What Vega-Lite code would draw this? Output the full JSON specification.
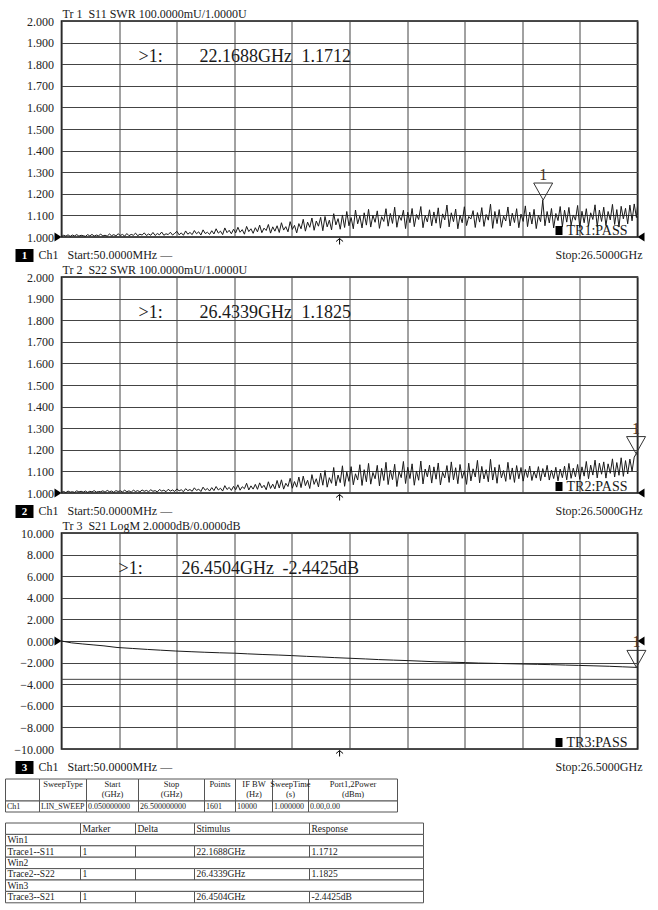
{
"$schema": "https://vega.github.io/schema/vega-lite/v6.json",
"padding": {"left": 4.5, "top": 7, "right": 5, "bottom": 5},
"background": "#ffffff",
"bounds": "flush",
"spacing": 40,
"config": {
  "font": "Liberation Serif",
  "view": {"stroke": "#111111", "strokeWidth": 1.6},
  "axis": {"gridColor": "#444444", "gridOpacity": 1, "gridWidth": 1, "labelFont": "Liberation Serif", "labelFontSize": 12, "labelColor": "#222222", "tickSize": 0, "labelOverlap": false},
  "text": {"color": "#1a1a1a"}
},
"datasets": {
  "panels": [
    {"panel": 1, "title": "Tr 1\u00a0\u00a0S11 SWR 100.0000mU/1.0000U", "badge": "1", "ch": "Ch1", "start": "Start:50.0000MHz —", "stop": "Stop:26.5000GHz", "pass": "TR1:PASS"},
    {"panel": 2, "title": "Tr 2\u00a0\u00a0S22 SWR 100.0000mU/1.0000U", "badge": "2", "ch": "Ch1", "start": "Start:50.0000MHz —", "stop": "Stop:26.5000GHz", "pass": "TR2:PASS"},
    {"panel": 3, "title": "Tr 3\u00a0\u00a0S21 LogM 2.0000dB/0.0000dB", "badge": "3", "ch": "Ch1", "start": "Start:50.0000MHz —", "stop": "Stop:26.5000GHz", "pass": "TR3:PASS"}
  ],
  "markers": [
    {"panel": 1, "id": "1", "f": 22.1688, "v": 1.1712, "mk": ">1:", "freq": "22.1688GHz", "resp": "1.1712"},
    {"panel": 2, "id": "1", "f": 26.4339, "v": 1.1825, "mk": ">1:", "freq": "26.4339GHz", "resp": "1.1825"},
    {"panel": 3, "id": "1", "f": 26.4504, "v": -2.4425, "mk": ">1:", "freq": "26.4504GHz", "resp": "-2.4425dB"}
  ],
  "swr": [
{"f":0.05,"s11":1.002,"s22":1.003},{"f":0.15,"s11":1.008,"s22":1.007},{"f":0.25,"s11":1.004,"s22":1.002},{"f":0.35,"s11":1.010,"s22":1.009},{"f":0.45,"s11":1.003,"s22":1.004},{"f":0.55,"s11":1.009,"s22":1.006},{"f":0.65,"s11":1.005,"s22":1.003},{"f":0.75,"s11":1.011,"s22":1.010},{"f":0.85,"s11":1.004,"s22":1.005},{"f":0.95,"s11":1.008,"s22":1.008},
{"f":1.05,"s11":1.006,"s22":1.004},{"f":1.15,"s11":1.003,"s22":1.009},{"f":1.25,"s11":1.011,"s22":1.003},{"f":1.35,"s11":1.005,"s22":1.008},{"f":1.45,"s11":1.012,"s22":1.005},{"f":1.55,"s11":1.004,"s22":1.011},{"f":1.65,"s11":1.009,"s22":1.004},{"f":1.75,"s11":1.006,"s22":1.007},{"f":1.85,"s11":1.013,"s22":1.006},{"f":1.95,"s11":1.005,"s22":1.010},
{"f":2.05,"s11":1.008,"s22":1.004},{"f":2.15,"s11":1.004,"s22":1.012},{"f":2.25,"s11":1.014,"s22":1.006},{"f":2.35,"s11":1.006,"s22":1.009},{"f":2.45,"s11":1.011,"s22":1.003},{"f":2.55,"s11":1.005,"s22":1.011},{"f":2.65,"s11":1.015,"s22":1.007},{"f":2.75,"s11":1.007,"s22":1.010},{"f":2.85,"s11":1.012,"s22":1.005},{"f":2.95,"s11":1.004,"s22":1.013},
{"f":3.05,"s11":1.016,"s22":1.006},{"f":3.15,"s11":1.006,"s22":1.010},{"f":3.25,"s11":1.012,"s22":1.004},{"f":3.35,"s11":1.008,"s22":1.013},{"f":3.45,"s11":1.018,"s22":1.007},{"f":3.55,"s11":1.006,"s22":1.011},{"f":3.65,"s11":1.013,"s22":1.005},{"f":3.75,"s11":1.009,"s22":1.014},{"f":3.85,"s11":1.019,"s22":1.008},{"f":3.95,"s11":1.007,"s22":1.012},
{"f":4.05,"s11":1.014,"s22":1.006},{"f":4.15,"s11":1.008,"s22":1.015},{"f":4.25,"s11":1.021,"s22":1.008},{"f":4.35,"s11":1.007,"s22":1.011},{"f":4.45,"s11":1.016,"s22":1.005},{"f":4.55,"s11":1.010,"s22":1.016},{"f":4.65,"s11":1.023,"s22":1.009},{"f":4.75,"s11":1.008,"s22":1.013},{"f":4.85,"s11":1.015,"s22":1.006},{"f":4.95,"s11":1.011,"s22":1.017},
{"f":5.05,"s11":1.022,"s22":1.009},{"f":5.15,"s11":1.009,"s22":1.014},{"f":5.25,"s11":1.017,"s22":1.007},{"f":5.35,"s11":1.026,"s22":1.019},{"f":5.45,"s11":1.010,"s22":1.010},{"f":5.55,"s11":1.019,"s22":1.015},{"f":5.65,"s11":1.008,"s22":1.006},{"f":5.75,"s11":1.028,"s22":1.020},{"f":5.85,"s11":1.013,"s22":1.011},{"f":5.95,"s11":1.021,"s22":1.016},
{"f":6.05,"s11":1.011,"s22":1.008},{"f":6.15,"s11":1.030,"s22":1.024},{"f":6.25,"s11":1.015,"s22":1.012},{"f":6.35,"s11":1.024,"s22":1.018},{"f":6.45,"s11":1.009,"s22":1.007},{"f":6.55,"s11":1.033,"s22":1.027},{"f":6.65,"s11":1.016,"s22":1.013},{"f":6.75,"s11":1.022,"s22":1.021},{"f":6.85,"s11":1.012,"s22":1.009},{"f":6.95,"s11":1.029,"s22":1.025},
{"f":7.05,"s11":1.014,"s22":1.011},{"f":7.15,"s11":1.038,"s22":1.030},{"f":7.25,"s11":1.018,"s22":1.014},{"f":7.35,"s11":1.027,"s22":1.022},{"f":7.45,"s11":1.011,"s22":1.009},{"f":7.55,"s11":1.042,"s22":1.034},{"f":7.65,"s11":1.020,"s22":1.016},{"f":7.75,"s11":1.031,"s22":1.026},{"f":7.85,"s11":1.015,"s22":1.012},{"f":7.95,"s11":1.036,"s22":1.031},
{"f":8.05,"s11":1.019,"s22":1.015},{"f":8.15,"s11":1.045,"s22":1.038},{"f":8.25,"s11":1.022,"s22":1.013},{"f":8.35,"s11":1.034,"s22":1.029},{"f":8.45,"s11":1.013,"s22":1.020},{"f":8.55,"s11":1.049,"s22":1.045},{"f":8.65,"s11":1.025,"s22":1.014},{"f":8.75,"s11":1.038,"s22":1.033},{"f":8.85,"s11":1.017,"s22":1.018},{"f":8.95,"s11":1.043,"s22":1.040},
{"f":9.05,"s11":1.024,"s22":1.017},{"f":9.15,"s11":1.055,"s22":1.047},{"f":9.25,"s11":1.020,"s22":1.024},{"f":9.35,"s11":1.041,"s22":1.036},{"f":9.45,"s11":1.030,"s22":1.015},{"f":9.55,"s11":1.058,"s22":1.052},{"f":9.65,"s11":1.018,"s22":1.021},{"f":9.75,"s11":1.047,"s22":1.041},{"f":9.85,"s11":1.027,"s22":1.019},{"f":9.95,"s11":1.052,"s22":1.058},
{"f":10.05,"s11":1.021,"s22":1.023},{"f":10.15,"s11":1.066,"s22":1.061},{"f":10.25,"s11":1.032,"s22":1.018},{"f":10.35,"s11":1.048,"s22":1.045},{"f":10.45,"s11":1.024,"s22":1.030},{"f":10.55,"s11":1.071,"s22":1.068},{"f":10.65,"s11":1.035,"s22":1.022},{"f":10.75,"s11":1.054,"s22":1.053},{"f":10.85,"s11":1.019,"s22":1.027},{"f":10.95,"s11":1.062,"s22":1.074},
{"f":11.05,"s11":1.038,"s22":1.025},{"f":11.15,"s11":1.082,"s22":1.078},{"f":11.25,"s11":1.027,"s22":1.034},{"f":11.35,"s11":1.069,"s22":1.059},{"f":11.45,"s11":1.045,"s22":1.021},{"f":11.55,"s11":1.088,"s22":1.085},{"f":11.65,"s11":1.031,"s22":1.040},{"f":11.75,"s11":1.074,"s22":1.066},{"f":11.85,"s11":1.050,"s22":1.028},{"f":11.95,"s11":1.091,"s22":1.092},
{"f":12.05,"s11":1.029,"s22":1.036},{"f":12.15,"s11":1.095,"s22":1.104},{"f":12.25,"s11":1.047,"s22":1.027},{"f":12.35,"s11":1.078,"s22":1.071},{"f":12.45,"s11":1.033,"s22":1.045},{"f":12.55,"s11":1.108,"s22":1.118},{"f":12.65,"s11":1.056,"s22":1.033},{"f":12.75,"s11":1.085,"s22":1.083},{"f":12.85,"s11":1.036,"s22":1.048},{"f":12.95,"s11":1.102,"s22":1.126},
{"f":13.05,"s11":1.044,"s22":1.031},{"f":13.15,"s11":1.118,"s22":1.097},{"f":13.25,"s11":1.052,"s22":1.054},{"f":13.35,"s11":1.090,"s22":1.122},{"f":13.45,"s11":1.038,"s22":1.038},{"f":13.55,"s11":1.125,"s22":1.089},{"f":13.65,"s11":1.061,"s22":1.060},{"f":13.75,"s11":1.097,"s22":1.131},{"f":13.85,"s11":1.042,"s22":1.035},{"f":13.95,"s11":1.112,"s22":1.108},
{"f":14.05,"s11":1.055,"s22":1.052},{"f":14.15,"s11":1.128,"s22":1.137},{"f":14.25,"s11":1.046,"s22":1.041},{"f":14.35,"s11":1.101,"s22":1.095},{"f":14.45,"s11":1.068,"s22":1.066},{"f":14.55,"s11":1.121,"s22":1.128},{"f":14.65,"s11":1.040,"s22":1.033},{"f":14.75,"s11":1.094,"s22":1.114},{"f":14.85,"s11":1.072,"s22":1.058},{"f":14.95,"s11":1.131,"s22":1.142},
{"f":15.05,"s11":1.050,"s22":1.039},{"f":15.15,"s11":1.109,"s22":1.106},{"f":15.25,"s11":1.063,"s22":1.062},{"f":15.35,"s11":1.138,"s22":1.133},{"f":15.45,"s11":1.045,"s22":1.030},{"f":15.55,"s11":1.098,"s22":1.099},{"f":15.65,"s11":1.077,"s22":1.071},{"f":15.75,"s11":1.124,"s22":1.146},{"f":15.85,"s11":1.039,"s22":1.044},{"f":15.95,"s11":1.115,"s22":1.119},
{"f":16.05,"s11":1.066,"s22":1.067},{"f":16.15,"s11":1.132,"s22":1.135},{"f":16.25,"s11":1.048,"s22":1.036},{"f":16.35,"s11":1.104,"s22":1.102},{"f":16.45,"s11":1.081,"s22":1.059},{"f":16.55,"s11":1.141,"s22":1.148},{"f":16.65,"s11":1.043,"s22":1.042},{"f":16.75,"s11":1.099,"s22":1.111},{"f":16.85,"s11":1.070,"s22":1.075},{"f":16.95,"s11":1.126,"s22":1.129},
{"f":17.05,"s11":1.052,"s22":1.046},{"f":17.15,"s11":1.116,"s22":1.121},{"f":17.25,"s11":1.064,"s22":1.064},{"f":17.35,"s11":1.135,"s22":1.139},{"f":17.45,"s11":1.041,"s22":1.037},{"f":17.55,"s11":1.107,"s22":1.096},{"f":17.65,"s11":1.079,"s22":1.070},{"f":17.75,"s11":1.148,"s22":1.127},{"f":17.85,"s11":1.047,"s22":1.049},{"f":17.95,"s11":1.112,"s22":1.144},
{"f":18.05,"s11":1.071,"s22":1.061},{"f":18.15,"s11":1.129,"s22":1.117},{"f":18.25,"s11":1.038,"s22":1.043},{"f":18.35,"s11":1.101,"s22":1.132},{"f":18.45,"s11":1.066,"s22":1.068},{"f":18.55,"s11":1.140,"s22":1.103},{"f":18.65,"s11":1.053,"s22":1.040},{"f":18.75,"s11":1.095,"s22":1.138},{"f":18.85,"s11":1.083,"s22":1.056},{"f":18.95,"s11":1.122,"s22":1.112},
{"f":19.05,"s11":1.044,"s22":1.074},{"f":19.15,"s11":1.113,"s22":1.151},{"f":19.25,"s11":1.069,"s22":1.047},{"f":19.35,"s11":1.136,"s22":1.123},{"f":19.45,"s11":1.049,"s22":1.065},{"f":19.55,"s11":1.104,"s22":1.108},{"f":19.65,"s11":1.078,"s22":1.052},{"f":19.75,"s11":1.152,"s22":1.156},{"f":19.85,"s11":1.040,"s22":1.060},{"f":19.95,"s11":1.118,"s22":1.119},
{"f":20.05,"s11":1.062,"s22":1.045},{"f":20.15,"s11":1.127,"s22":1.131},{"f":20.25,"s11":1.045,"s22":1.070},{"f":20.35,"s11":1.097,"s22":1.104},{"f":20.45,"s11":1.074,"s22":1.054},{"f":20.55,"s11":1.139,"s22":1.142},{"f":20.65,"s11":1.051,"s22":1.063},{"f":20.75,"s11":1.110,"s22":1.116},{"f":20.85,"s11":1.067,"s22":1.049},{"f":20.95,"s11":1.131,"s22":1.127},
{"f":21.05,"s11":1.043,"s22":1.066},{"f":21.15,"s11":1.106,"s22":1.118},{"f":21.25,"s11":1.072,"s22":1.055},{"f":21.35,"s11":1.144,"s22":1.109},{"f":21.45,"s11":1.048,"s22":1.072},{"f":21.55,"s11":1.115,"s22":1.125},{"f":21.65,"s11":1.060,"s22":1.058},{"f":21.75,"s11":1.128,"s22":1.101},{"f":21.85,"s11":1.039,"s22":1.069},{"f":21.95,"s11":1.101,"s22":1.122},
{"f":22.05,"s11":1.071,"s22":1.057},{"f":22.15,"s11":1.171,"s22":1.113},{"f":22.25,"s11":1.052,"s22":1.074},{"f":22.35,"s11":1.118,"s22":1.128},{"f":22.45,"s11":1.065,"s22":1.060},{"f":22.55,"s11":1.132,"s22":1.106},{"f":22.65,"s11":1.042,"s22":1.067},{"f":22.75,"s11":1.109,"s22":1.119},{"f":22.85,"s11":1.076,"s22":1.056},{"f":22.95,"s11":1.141,"s22":1.111},
{"f":23.05,"s11":1.048,"s22":1.071},{"f":23.15,"s11":1.124,"s22":1.124},{"f":23.25,"s11":1.069,"s22":1.061},{"f":23.35,"s11":1.137,"s22":1.137},{"f":23.45,"s11":1.055,"s22":1.068},{"f":23.55,"s11":1.102,"s22":1.115},{"f":23.65,"s11":1.078,"s22":1.075},{"f":23.75,"s11":1.146,"s22":1.132},{"f":23.85,"s11":1.044,"s22":1.063},{"f":23.95,"s11":1.119,"s22":1.121},
{"f":24.05,"s11":1.066,"s22":1.078},{"f":24.15,"s11":1.131,"s22":1.146},{"f":24.25,"s11":1.050,"s22":1.066},{"f":24.35,"s11":1.112,"s22":1.129},{"f":24.45,"s11":1.081,"s22":1.083},{"f":24.55,"s11":1.149,"s22":1.152},{"f":24.65,"s11":1.047,"s22":1.070},{"f":24.75,"s11":1.125,"s22":1.138},{"f":24.85,"s11":1.072,"s22":1.087},{"f":24.95,"s11":1.138,"s22":1.144},
{"f":25.05,"s11":1.053,"s22":1.069},{"f":25.15,"s11":1.118,"s22":1.135},{"f":25.25,"s11":1.079,"s22":1.091},{"f":25.35,"s11":1.151,"s22":1.158},{"f":25.45,"s11":1.058,"s22":1.074},{"f":25.55,"s11":1.127,"s22":1.141},{"f":25.65,"s11":1.046,"s22":1.082},{"f":25.75,"s11":1.142,"s22":1.163},{"f":25.85,"s11":1.084,"s22":1.077},{"f":25.95,"s11":1.133,"s22":1.150},
{"f":26.05,"s11":1.061,"s22":1.088},{"f":26.15,"s11":1.148,"s22":1.157},{"f":26.25,"s11":1.075,"s22":1.101},{"f":26.35,"s11":1.153,"s22":1.166},{"f":26.45,"s11":1.090,"s22":1.183},{"f":26.5,"s11":1.142,"s22":1.176}
  ],
  "s21": [
{"f":0.05,"v":0},{"f":0.5,"v":-0.17},{"f":1,"v":-0.27},{"f":1.5,"v":-0.36},{"f":2,"v":-0.45},{"f":2.6,"v":-0.6},{"f":3.3,"v":-0.69},{"f":4,"v":-0.78},{"f":4.6,"v":-0.85},{"f":5.3,"v":-0.93},{"f":6,"v":-0.99},{"f":6.6,"v":-1.04},{"f":7.3,"v":-1.09},{"f":8,"v":-1.13},{"f":8.6,"v":-1.19},{"f":9.3,"v":-1.25},{"f":10,"v":-1.3},{"f":10.6,"v":-1.35},{"f":11.3,"v":-1.42},{"f":12,"v":-1.48},{"f":12.6,"v":-1.54},{"f":13.3,"v":-1.6},{"f":14,"v":-1.66},{"f":14.6,"v":-1.72},{"f":15.3,"v":-1.77},{"f":16,"v":-1.82},{"f":16.6,"v":-1.87},{"f":17.2,"v":-1.92},{"f":17.9,"v":-1.96},{"f":18.6,"v":-2.0},{"f":19.2,"v":-2.04},{"f":19.9,"v":-2.07},{"f":20.5,"v":-2.1},{"f":21.2,"v":-2.13},{"f":21.9,"v":-2.16},{"f":22.5,"v":-2.19},{"f":23.2,"v":-2.23},{"f":23.8,"v":-2.26},{"f":24.5,"v":-2.3},{"f":25.2,"v":-2.34},{"f":25.8,"v":-2.39},{"f":26.4504,"v":-2.4425},{"f":26.5,"v":-2.45}
  ],
  "table1": [
{"c0":0,"c1":1,"r0":0,"r1":1,"text":""},{"c0":1,"c1":2,"r0":0,"r1":1,"text":"SweepType"},{"c0":2,"c1":3,"r0":0,"r1":1,"text":"Start\n(GHz)"},{"c0":3,"c1":4,"r0":0,"r1":1,"text":"Stop\n(GHz)"},{"c0":4,"c1":5,"r0":0,"r1":1,"text":"Points"},{"c0":5,"c1":6,"r0":0,"r1":1,"text":"IF BW\n(Hz)"},{"c0":6,"c1":7,"r0":0,"r1":1,"text":"SweepTime\n(s)"},{"c0":7,"c1":8,"r0":0,"r1":1,"text":"Port1,2Power\n(dBm)"},
{"c0":0,"c1":1,"r0":1,"r1":2,"text":"Ch1"},{"c0":1,"c1":2,"r0":1,"r1":2,"text":"LIN_SWEEP"},{"c0":2,"c1":3,"r0":1,"r1":2,"text":"0.050000000"},{"c0":3,"c1":4,"r0":1,"r1":2,"text":"26.500000000"},{"c0":4,"c1":5,"r0":1,"r1":2,"text":"1601"},{"c0":5,"c1":6,"r0":1,"r1":2,"text":"10000"},{"c0":6,"c1":7,"r0":1,"r1":2,"text":"1.000000"},{"c0":7,"c1":8,"r0":1,"r1":2,"text":"0.00,0.00"}
  ],
  "table2": [
{"c0":0,"c1":1,"r0":3,"r1":4,"text":""},{"c0":1,"c1":2,"r0":3,"r1":4,"text":"Marker"},{"c0":2,"c1":3,"r0":3,"r1":4,"text":"Delta"},{"c0":3,"c1":4,"r0":3,"r1":4,"text":"Stimulus"},{"c0":4,"c1":5,"r0":3,"r1":4,"text":"Response"},
{"c0":0,"c1":5,"r0":4,"r1":5,"text":"Win1"},
{"c0":0,"c1":1,"r0":5,"r1":6,"text":"Trace1--S11"},{"c0":1,"c1":2,"r0":5,"r1":6,"text":"1"},{"c0":2,"c1":3,"r0":5,"r1":6,"text":""},{"c0":3,"c1":4,"r0":5,"r1":6,"text":"22.1688GHz"},{"c0":4,"c1":5,"r0":5,"r1":6,"text":"1.1712"},
{"c0":0,"c1":5,"r0":6,"r1":7,"text":"Win2"},
{"c0":0,"c1":1,"r0":7,"r1":8,"text":"Trace2--S22"},{"c0":1,"c1":2,"r0":7,"r1":8,"text":"1"},{"c0":2,"c1":3,"r0":7,"r1":8,"text":""},{"c0":3,"c1":4,"r0":7,"r1":8,"text":"26.4339GHz"},{"c0":4,"c1":5,"r0":7,"r1":8,"text":"1.1825"},
{"c0":0,"c1":5,"r0":8,"r1":9,"text":"Win3"},
{"c0":0,"c1":1,"r0":9,"r1":10,"text":"Trace3--S21"},{"c0":1,"c1":2,"r0":9,"r1":10,"text":"1"},{"c0":2,"c1":3,"r0":9,"r1":10,"text":""},{"c0":3,"c1":4,"r0":9,"r1":10,"text":"26.4504GHz"},{"c0":4,"c1":5,"r0":9,"r1":10,"text":"-2.4425dB"}
  ]
},
"vconcat": [
 {
  "width": 576, "height": 216,
  "layer": [
   {"data": {"name": "swr"},
    "mark": {"type": "line", "color": "#1a1a1a", "strokeWidth": 1, "clip": true},
    "encoding": {
     "x": {"field": "f", "type": "quantitative", "scale": {"domain": [0.05, 26.5], "nice": false, "zero": false}, "axis": {"values": [0.05, 2.695, 5.34, 7.985, 10.63, 13.275, 15.92, 18.565, 21.21, 23.855, 26.5], "labels": false, "ticks": false, "domain": false, "grid": true, "title": null}},
     "y": {"field": "s11", "type": "quantitative", "scale": {"domain": [1, 2], "nice": false, "zero": false}, "axis": {"values": [1, 1.1, 1.2, 1.3, 1.4, 1.5, 1.6, 1.7, 1.8, 1.9, 2], "format": ".3f", "ticks": false, "domain": false, "grid": true, "title": null, "labelPadding": 8, "labelOverlap": false, "labelBound": false, "tickCount": 11, "labelFont": "Liberation Serif"}}
    }},
   {"data": {"name": "panels"}, "transform": [{"filter": "datum.panel == 1"}],
    "layer": [
     {"mark": {"type": "text", "align": "left", "baseline": "alphabetic", "fontSize": 12, "dx": 1, "dy": -3}, "encoding": {"x": {"datum": 0.05, "type": "quantitative"}, "y": {"datum": 2, "type": "quantitative"}, "text": {"field": "title"}}},
     {"mark": {"type": "point", "shape": "M-4.6,1.2H-2.8V2.5H-4.6Z", "size": 400, "filled": true, "color": "#000000", "opacity": 1}, "encoding": {"x": {"datum": 0.05, "type": "quantitative"}, "y": {"datum": 1, "type": "quantitative"}}},
     {"mark": {"type": "text", "align": "center", "baseline": "middle", "fontSize": 11, "fontWeight": "bold", "color": "#ffffff", "dx": -37, "dy": 19}, "encoding": {"x": {"datum": 0.05, "type": "quantitative"}, "y": {"datum": 1, "type": "quantitative"}, "text": {"field": "badge"}}},
     {"mark": {"type": "text", "align": "left", "baseline": "alphabetic", "fontSize": 12, "dx": -23, "dy": 22}, "encoding": {"x": {"datum": 0.05, "type": "quantitative"}, "y": {"datum": 1, "type": "quantitative"}, "text": {"field": "ch"}}},
     {"mark": {"type": "text", "align": "left", "baseline": "alphabetic", "fontSize": 12, "dx": 6, "dy": 22}, "encoding": {"x": {"datum": 0.05, "type": "quantitative"}, "y": {"datum": 1, "type": "quantitative"}, "text": {"field": "start"}}},
     {"mark": {"type": "text", "align": "right", "baseline": "alphabetic", "fontSize": 12, "dx": 5, "dy": 22}, "encoding": {"x": {"datum": 26.5, "type": "quantitative"}, "y": {"datum": 1, "type": "quantitative"}, "text": {"field": "stop"}}},
     {"mark": {"type": "point", "shape": "M-8.2,-1.1H-7.5V-0.2H-8.2Z", "size": 400, "filled": true, "color": "#000000", "opacity": 1}, "encoding": {"x": {"datum": 26.5, "type": "quantitative"}, "y": {"datum": 1, "type": "quantitative"}}},
     {"mark": {"type": "text", "align": "left", "baseline": "alphabetic", "fontSize": 14, "dx": -71, "dy": -2}, "encoding": {"x": {"datum": 26.5, "type": "quantitative"}, "y": {"datum": 1, "type": "quantitative"}, "text": {"field": "pass"}}},
     {"mark": {"type": "point", "shape": "M0,0L-0.7,-0.45L-0.7,0.45Z", "size": 400, "filled": true, "color": "#000000", "opacity": 1}, "encoding": {"x": {"datum": 0.05, "type": "quantitative"}, "y": {"datum": 1, "type": "quantitative"}}},
     {"mark": {"type": "point", "shape": "M0,0L0.7,-0.45L0.7,0.45Z", "size": 400, "filled": true, "color": "#000000", "opacity": 1}, "encoding": {"x": {"datum": 26.5, "type": "quantitative"}, "y": {"datum": 1, "type": "quantitative"}}},
     {"mark": {"type": "point", "shape": "M-0.35,0.45L0,0.15L0.35,0.45M0,0.15V0.75", "size": 400, "filled": false, "color": "#000000", "opacity": 1, "strokeWidth": 1}, "encoding": {"x": {"datum": 12.82, "type": "quantitative"}, "y": {"datum": 1, "type": "quantitative"}}}
    ]},
   {"data": {"name": "markers"}, "transform": [{"filter": "datum.panel == 1"}],
    "layer": [
     {"mark": {"type": "text", "align": "left", "baseline": "alphabetic", "fontSize": 18, "dx": 77, "dy": 41}, "encoding": {"x": {"datum": 0.05, "type": "quantitative"}, "y": {"datum": 2, "type": "quantitative"}, "text": {"field": "mk"}}},
     {"mark": {"type": "text", "align": "left", "baseline": "alphabetic", "fontSize": 18, "dx": 138, "dy": 41}, "encoding": {"x": {"datum": 0.05, "type": "quantitative"}, "y": {"datum": 2, "type": "quantitative"}, "text": {"field": "freq"}}},
     {"mark": {"type": "text", "align": "left", "baseline": "alphabetic", "fontSize": 18, "dx": 240, "dy": 41}, "encoding": {"x": {"datum": 0.05, "type": "quantitative"}, "y": {"datum": 2, "type": "quantitative"}, "text": {"field": "resp"}}},
     {"mark": {"type": "point", "shape": "M-0.95,-1.7L0.95,-1.7L0,0Z", "size": 400, "filled": false, "color": "#333333", "opacity": 1, "strokeWidth": 1}, "encoding": {"x": {"field": "f", "type": "quantitative"}, "y": {"field": "v", "type": "quantitative"}}},
     {"mark": {"type": "text", "align": "center", "baseline": "alphabetic", "fontSize": 16, "dy": -20, "color": "#4a3222"}, "encoding": {"x": {"field": "f", "type": "quantitative"}, "y": {"field": "v", "type": "quantitative"}, "text": {"field": "id"}}}
    ]}
  ]
 },
 {
  "width": 576, "height": 216,
  "layer": [
   {"data": {"name": "swr"},
    "mark": {"type": "line", "color": "#1a1a1a", "strokeWidth": 1, "clip": true},
    "encoding": {
     "x": {"field": "f", "type": "quantitative", "scale": {"domain": [0.05, 26.5], "nice": false, "zero": false}, "axis": {"values": [0.05, 2.695, 5.34, 7.985, 10.63, 13.275, 15.92, 18.565, 21.21, 23.855, 26.5], "labels": false, "ticks": false, "domain": false, "grid": true, "title": null}},
     "y": {"field": "s22", "type": "quantitative", "scale": {"domain": [1, 2], "nice": false, "zero": false}, "axis": {"values": [1, 1.1, 1.2, 1.3, 1.4, 1.5, 1.6, 1.7, 1.8, 1.9, 2], "format": ".3f", "ticks": false, "domain": false, "grid": true, "title": null, "labelPadding": 8, "labelOverlap": false, "labelBound": false, "tickCount": 11, "labelFont": "Liberation Serif"}}
    }},
   {"data": {"name": "panels"}, "transform": [{"filter": "datum.panel == 2"}],
    "layer": [
     {"mark": {"type": "text", "align": "left", "baseline": "alphabetic", "fontSize": 12, "dx": 1, "dy": -3}, "encoding": {"x": {"datum": 0.05, "type": "quantitative"}, "y": {"datum": 2, "type": "quantitative"}, "text": {"field": "title"}}},
     {"mark": {"type": "point", "shape": "M-4.6,1.2H-2.8V2.5H-4.6Z", "size": 400, "filled": true, "color": "#000000", "opacity": 1}, "encoding": {"x": {"datum": 0.05, "type": "quantitative"}, "y": {"datum": 1, "type": "quantitative"}}},
     {"mark": {"type": "text", "align": "center", "baseline": "middle", "fontSize": 11, "fontWeight": "bold", "color": "#ffffff", "dx": -37, "dy": 19}, "encoding": {"x": {"datum": 0.05, "type": "quantitative"}, "y": {"datum": 1, "type": "quantitative"}, "text": {"field": "badge"}}},
     {"mark": {"type": "text", "align": "left", "baseline": "alphabetic", "fontSize": 12, "dx": -23, "dy": 22}, "encoding": {"x": {"datum": 0.05, "type": "quantitative"}, "y": {"datum": 1, "type": "quantitative"}, "text": {"field": "ch"}}},
     {"mark": {"type": "text", "align": "left", "baseline": "alphabetic", "fontSize": 12, "dx": 6, "dy": 22}, "encoding": {"x": {"datum": 0.05, "type": "quantitative"}, "y": {"datum": 1, "type": "quantitative"}, "text": {"field": "start"}}},
     {"mark": {"type": "text", "align": "right", "baseline": "alphabetic", "fontSize": 12, "dx": 5, "dy": 22}, "encoding": {"x": {"datum": 26.5, "type": "quantitative"}, "y": {"datum": 1, "type": "quantitative"}, "text": {"field": "stop"}}},
     {"mark": {"type": "point", "shape": "M-8.2,-1.1H-7.5V-0.2H-8.2Z", "size": 400, "filled": true, "color": "#000000", "opacity": 1}, "encoding": {"x": {"datum": 26.5, "type": "quantitative"}, "y": {"datum": 1, "type": "quantitative"}}},
     {"mark": {"type": "text", "align": "left", "baseline": "alphabetic", "fontSize": 14, "dx": -71, "dy": -2}, "encoding": {"x": {"datum": 26.5, "type": "quantitative"}, "y": {"datum": 1, "type": "quantitative"}, "text": {"field": "pass"}}},
     {"mark": {"type": "point", "shape": "M0,0L-0.7,-0.45L-0.7,0.45Z", "size": 400, "filled": true, "color": "#000000", "opacity": 1}, "encoding": {"x": {"datum": 0.05, "type": "quantitative"}, "y": {"datum": 1, "type": "quantitative"}}},
     {"mark": {"type": "point", "shape": "M0,0L0.7,-0.45L0.7,0.45Z", "size": 400, "filled": true, "color": "#000000", "opacity": 1}, "encoding": {"x": {"datum": 26.5, "type": "quantitative"}, "y": {"datum": 1, "type": "quantitative"}}},
     {"mark": {"type": "point", "shape": "M-0.35,0.45L0,0.15L0.35,0.45M0,0.15V0.75", "size": 400, "filled": false, "color": "#000000", "opacity": 1, "strokeWidth": 1}, "encoding": {"x": {"datum": 12.82, "type": "quantitative"}, "y": {"datum": 1, "type": "quantitative"}}}
    ]},
   {"data": {"name": "markers"}, "transform": [{"filter": "datum.panel == 2"}],
    "layer": [
     {"mark": {"type": "text", "align": "left", "baseline": "alphabetic", "fontSize": 18, "dx": 77, "dy": 41}, "encoding": {"x": {"datum": 0.05, "type": "quantitative"}, "y": {"datum": 2, "type": "quantitative"}, "text": {"field": "mk"}}},
     {"mark": {"type": "text", "align": "left", "baseline": "alphabetic", "fontSize": 18, "dx": 138, "dy": 41}, "encoding": {"x": {"datum": 0.05, "type": "quantitative"}, "y": {"datum": 2, "type": "quantitative"}, "text": {"field": "freq"}}},
     {"mark": {"type": "text", "align": "left", "baseline": "alphabetic", "fontSize": 18, "dx": 240, "dy": 41}, "encoding": {"x": {"datum": 0.05, "type": "quantitative"}, "y": {"datum": 2, "type": "quantitative"}, "text": {"field": "resp"}}},
     {"mark": {"type": "point", "shape": "M-0.95,-1.7L0.95,-1.7L0,0Z", "size": 400, "filled": false, "color": "#333333", "opacity": 1, "strokeWidth": 1}, "encoding": {"x": {"field": "f", "type": "quantitative"}, "y": {"field": "v", "type": "quantitative"}}},
     {"mark": {"type": "text", "align": "center", "baseline": "alphabetic", "fontSize": 16, "dy": -20, "color": "#4a3222"}, "encoding": {"x": {"field": "f", "type": "quantitative"}, "y": {"field": "v", "type": "quantitative"}, "text": {"field": "id"}}}
    ]}
  ]
 },
 {
  "width": 576, "height": 216,
  "layer": [
   {"data": {"name": "s21"},
    "mark": {"type": "line", "color": "#1a1a1a", "strokeWidth": 1, "clip": true},
    "encoding": {
     "x": {"field": "f", "type": "quantitative", "scale": {"domain": [0.05, 26.5], "nice": false, "zero": false}, "axis": {"values": [0.05, 2.695, 5.34, 7.985, 10.63, 13.275, 15.92, 18.565, 21.21, 23.855, 26.5], "labels": false, "ticks": false, "domain": false, "grid": true, "title": null}},
     "y": {"field": "v", "type": "quantitative", "scale": {"domain": [-10, 10], "nice": false, "zero": false}, "axis": {"values": [-10, -8, -6, -4, -2, 0, 2, 4, 6, 8, 10], "format": ".3f", "ticks": false, "domain": false, "grid": true, "title": null, "labelPadding": 8, "labelOverlap": false, "labelBound": false, "tickCount": 11, "labelFont": "Liberation Serif"}}
    }},
   {"data": {"name": "panels"}, "transform": [{"filter": "datum.panel == 3"}],
    "layer": [
     {"mark": {"type": "rule", "color": "#444444", "strokeWidth": 1}, "encoding": {"y": {"datum": -3.55, "type": "quantitative"}}},
     {"mark": {"type": "text", "align": "left", "baseline": "alphabetic", "fontSize": 12, "dx": 1, "dy": -3}, "encoding": {"x": {"datum": 0.05, "type": "quantitative"}, "y": {"datum": 10, "type": "quantitative"}, "text": {"field": "title"}}},
     {"mark": {"type": "point", "shape": "M-4.6,1.2H-2.8V2.5H-4.6Z", "size": 400, "filled": true, "color": "#000000", "opacity": 1}, "encoding": {"x": {"datum": 0.05, "type": "quantitative"}, "y": {"datum": -10, "type": "quantitative"}}},
     {"mark": {"type": "text", "align": "center", "baseline": "middle", "fontSize": 11, "fontWeight": "bold", "color": "#ffffff", "dx": -37, "dy": 19}, "encoding": {"x": {"datum": 0.05, "type": "quantitative"}, "y": {"datum": -10, "type": "quantitative"}, "text": {"field": "badge"}}},
     {"mark": {"type": "text", "align": "left", "baseline": "alphabetic", "fontSize": 12, "dx": -23, "dy": 22}, "encoding": {"x": {"datum": 0.05, "type": "quantitative"}, "y": {"datum": -10, "type": "quantitative"}, "text": {"field": "ch"}}},
     {"mark": {"type": "text", "align": "left", "baseline": "alphabetic", "fontSize": 12, "dx": 6, "dy": 22}, "encoding": {"x": {"datum": 0.05, "type": "quantitative"}, "y": {"datum": -10, "type": "quantitative"}, "text": {"field": "start"}}},
     {"mark": {"type": "text", "align": "right", "baseline": "alphabetic", "fontSize": 12, "dx": 5, "dy": 22}, "encoding": {"x": {"datum": 26.5, "type": "quantitative"}, "y": {"datum": -10, "type": "quantitative"}, "text": {"field": "stop"}}},
     {"mark": {"type": "point", "shape": "M-8.2,-1.1H-7.5V-0.2H-8.2Z", "size": 400, "filled": true, "color": "#000000", "opacity": 1}, "encoding": {"x": {"datum": 26.5, "type": "quantitative"}, "y": {"datum": -10, "type": "quantitative"}}},
     {"mark": {"type": "text", "align": "left", "baseline": "alphabetic", "fontSize": 14, "dx": -71, "dy": -2}, "encoding": {"x": {"datum": 26.5, "type": "quantitative"}, "y": {"datum": -10, "type": "quantitative"}, "text": {"field": "pass"}}},
     {"mark": {"type": "point", "shape": "M0,0L-0.7,-0.45L-0.7,0.45Z", "size": 400, "filled": true, "color": "#000000", "opacity": 1}, "encoding": {"x": {"datum": 0.05, "type": "quantitative"}, "y": {"datum": 0, "type": "quantitative"}}},
     {"mark": {"type": "point", "shape": "M0,0L0.7,-0.45L0.7,0.45Z", "size": 400, "filled": true, "color": "#000000", "opacity": 1}, "encoding": {"x": {"datum": 26.5, "type": "quantitative"}, "y": {"datum": 0, "type": "quantitative"}}},
     {"mark": {"type": "point", "shape": "M-0.35,0.45L0,0.15L0.35,0.45M0,0.15V0.75", "size": 400, "filled": false, "color": "#000000", "opacity": 1, "strokeWidth": 1}, "encoding": {"x": {"datum": 12.82, "type": "quantitative"}, "y": {"datum": -10, "type": "quantitative"}}}
    ]},
   {"data": {"name": "markers"}, "transform": [{"filter": "datum.panel == 3"}],
    "layer": [
     {"mark": {"type": "text", "align": "left", "baseline": "alphabetic", "fontSize": 18, "dx": 57, "dy": 41}, "encoding": {"x": {"datum": 0.05, "type": "quantitative"}, "y": {"datum": 10, "type": "quantitative"}, "text": {"field": "mk"}}},
     {"mark": {"type": "text", "align": "left", "baseline": "alphabetic", "fontSize": 18, "dx": 120, "dy": 41}, "encoding": {"x": {"datum": 0.05, "type": "quantitative"}, "y": {"datum": 10, "type": "quantitative"}, "text": {"field": "freq"}}},
     {"mark": {"type": "text", "align": "left", "baseline": "alphabetic", "fontSize": 18, "dx": 221, "dy": 41}, "encoding": {"x": {"datum": 0.05, "type": "quantitative"}, "y": {"datum": 10, "type": "quantitative"}, "text": {"field": "resp"}}},
     {"mark": {"type": "point", "shape": "M-0.95,-1.7L0.95,-1.7L0,0Z", "size": 400, "filled": false, "color": "#333333", "opacity": 1, "strokeWidth": 1}, "encoding": {"x": {"field": "f", "type": "quantitative"}, "y": {"field": "v", "type": "quantitative"}}},
     {"mark": {"type": "text", "align": "center", "baseline": "alphabetic", "fontSize": 16, "dy": -20, "color": "#4a3222"}, "encoding": {"x": {"field": "f", "type": "quantitative"}, "y": {"field": "v", "type": "quantitative"}, "text": {"field": "id"}}}
    ]}
  ]
 },
 {
  "width": 576, "height": 114,
  "view": {"stroke": null},
  "resolve": {"scale": {"x": "independent"}},
  "layer": [
   {"data": {"name": "table1"},
    "transform": [{"calculate": "(datum.r0 + datum.r1) / 2", "as": "rm"}, {"calculate": "(datum.c0 + datum.c1) / 2", "as": "cm"}],
    "layer": [
     {"mark": {"type": "rect", "fill": "#ffffff", "stroke": "#555555", "strokeWidth": 1},
      "encoding": {
       "x": {"field": "c0", "type": "quantitative", "scale": {"domain": [0, 1, 2, 3, 4, 5, 6, 7, 8], "range": [-56, -22, 25, 77, 143, 174, 211, 247, 336], "nice": false, "zero": false}, "axis": null},
       "x2": {"field": "c1"},
       "y": {"field": "r0", "type": "quantitative", "scale": {"domain": [0, 1, 2, 3, 4, 5, 6, 7, 8, 9, 10], "range": [-10, 12, 23, 34, 45.4, 56.8, 68.2, 79.6, 91, 102.4, 113.8], "nice": false, "zero": false}, "axis": null},
       "y2": {"field": "r1"}
      }},
     {"transform": [{"filter": "datum.r0 == 0"}],
      "mark": {"type": "text", "align": "center", "baseline": "top", "fontSize": 8.5, "lineBreak": "\n", "lineHeight": 10, "dy": 1},
      "encoding": {
       "x": {"field": "cm", "type": "quantitative", "scale": {"domain": [0, 1, 2, 3, 4, 5, 6, 7, 8], "range": [-56, -22, 25, 77, 143, 174, 211, 247, 336], "nice": false, "zero": false}, "axis": null},
       "y": {"field": "r0", "type": "quantitative", "scale": {"domain": [0, 1, 2, 3, 4, 5, 6, 7, 8, 9, 10], "range": [-10, 12, 23, 34, 45.4, 56.8, 68.2, 79.6, 91, 102.4, 113.8], "nice": false, "zero": false}, "axis": null},
       "text": {"field": "text"}
      }},
     {"transform": [{"filter": "datum.r0 == 1"}],
      "mark": {"type": "text", "align": "left", "baseline": "middle", "fontSize": 8, "dx": 1.5},
      "encoding": {
       "x": {"field": "c0", "type": "quantitative", "scale": {"domain": [0, 1, 2, 3, 4, 5, 6, 7, 8], "range": [-56, -22, 25, 77, 143, 174, 211, 247, 336], "nice": false, "zero": false}, "axis": null},
       "y": {"field": "rm", "type": "quantitative", "scale": {"domain": [0, 1, 2, 3, 4, 5, 6, 7, 8, 9, 10], "range": [-10, 12, 23, 34, 45.4, 56.8, 68.2, 79.6, 91, 102.4, 113.8], "nice": false, "zero": false}, "axis": null},
       "text": {"field": "text"}
      }}
    ]},
   {"data": {"name": "table2"},
    "transform": [{"calculate": "(datum.r0 + datum.r1) / 2", "as": "rm"}],
    "layer": [
     {"mark": {"type": "rect", "fill": "#ffffff", "stroke": "#555555", "strokeWidth": 1},
      "encoding": {
       "x": {"field": "c0", "type": "quantitative", "scale": {"domain": [0, 1, 2, 3, 4, 5], "range": [-56, 19, 74, 133, 248, 362], "nice": false, "zero": false}, "axis": null},
       "x2": {"field": "c1"},
       "y": {"field": "r0", "type": "quantitative", "scale": {"domain": [0, 1, 2, 3, 4, 5, 6, 7, 8, 9, 10], "range": [-10, 12, 23, 34, 45.4, 56.8, 68.2, 79.6, 91, 102.4, 113.8], "nice": false, "zero": false}, "axis": null},
       "y2": {"field": "r1"}
      }},
     {"mark": {"type": "text", "align": "left", "baseline": "middle", "fontSize": 9.5, "dx": 2},
      "encoding": {
       "x": {"field": "c0", "type": "quantitative", "scale": {"domain": [0, 1, 2, 3, 4, 5], "range": [-56, 19, 74, 133, 248, 362], "nice": false, "zero": false}, "axis": null},
       "y": {"field": "rm", "type": "quantitative", "scale": {"domain": [0, 1, 2, 3, 4, 5, 6, 7, 8, 9, 10], "range": [-10, 12, 23, 34, 45.4, 56.8, 68.2, 79.6, 91, 102.4, 113.8], "nice": false, "zero": false}, "axis": null},
       "text": {"field": "text"}
      }}
    ]}
  ]
 }
]
}
